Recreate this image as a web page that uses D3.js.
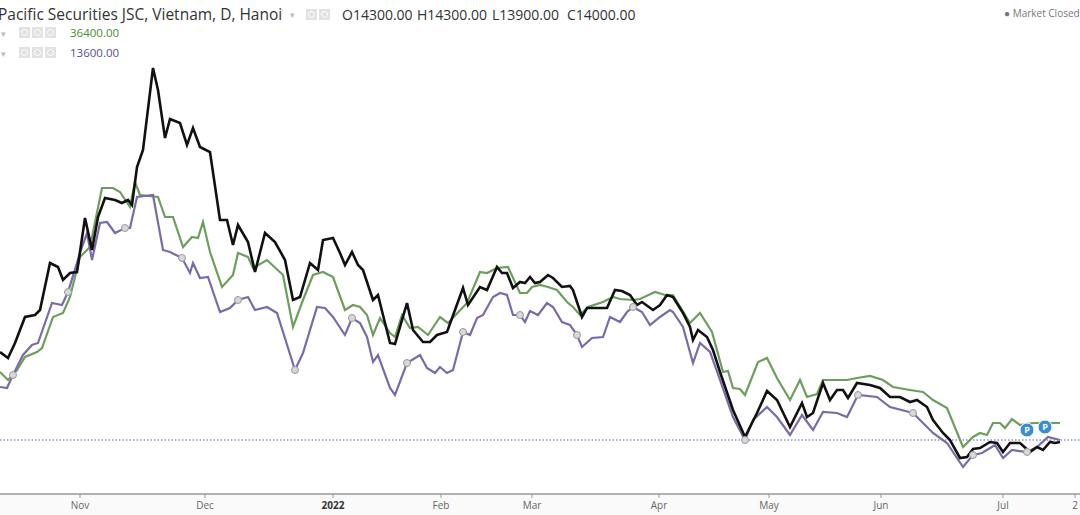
<!DOCTYPE html>
<html>
<head>
<meta charset="utf-8">
<script src="https://cdn.jsdelivr.net/npm/d3@7"></script>
<style>
  body { margin: 0; background: #fff; font-family: "Open Sans", Arial, sans-serif; }
</style>
</head>
<body>
<div id="chart"></div>
<script>
// [session, price in thousand VND]
const price = [[0,22.8],[1.6,22.2],[3,23.7],[5,26.3],[7,26.5],[8,27],[10,31.7],[11.6,31.3],[12.6,30],[14,30.7],[15.4,30.8],[17,36.2],[18.4,33],[19.6,36.3],[21,38.2],[23,38],[24.4,37.7],[25.6,38],[26.4,37.5],[27.4,41.3],[28.6,43],[30.6,51.2],[31.6,49],[33,44.2],[34,46.1],[36,45.7],[37.4,43.5],[38.6,45.2],[40,43.3],[42,42.8],[44,36],[45.4,36],[46.6,33.5],[47.6,35.5],[49.6,33.8],[51,30.8],[53,34.7],[55,33.8],[57,32],[58.6,28],[60,28.3],[62,31.7],[63.6,31],[64.6,34],[66.6,34.2],[68,32.7],[69,31.5],[70.4,32.8],[71.6,31.5],[72.6,31],[74.6,28],[75.6,28.5],[78,23.7],[79,23.6],[81.4,27.7],[82.6,25],[84.6,23.8],[86,23.8],[87.4,24.5],[89.4,24.8],[92.6,29.2],[93.6,27.5],[96,29.3],[97.4,29],[99.4,31.3],[100.4,30.7],[101.4,30.7],[102.6,29.2],[104,29.8],[105,29.7],[106,30.3],[107,29.7],[108,29.8],[109.6,30.5],[110.6,30.2],[112.4,29.3],[114,29.4],[114.6,29],[116.4,26.3],[117.4,27.2],[121.4,27.2],[123,29],[124.4,28.9],[126,28.5],[127.4,27.5],[128.4,27.8],[130.6,27],[132,27.5],[133.4,28.5],[134.6,28.3],[136.6,26.7],[138,25.3],[138.6,24],[139.6,25],[141.4,24.3],[142.6,23],[144,20.8],[146.6,17],[149,14.3],[151.4,16.7],[153.4,18.9],[155.4,18],[158,15.3],[160.4,17.7],[161.4,16.3],[162.6,16.7],[164.6,19.7],[166,18],[167.4,19],[168.6,19],[169.6,18.2],[171.4,19.7],[174,19.5],[176,19.2],[178,18.3],[180,18.3],[182,17.8],[183.4,18],[185.4,17.3],[186.6,16],[188.6,14.7],[190,14],[192,12.2],[193.4,12.3],[194.6,13.1],[196,13.2],[198,13.8],[199.4,13.7],[200.6,12.8],[202,13.7],[204,13.7],[206,12.8],[207.4,13.3],[208.6,13],[210,13.8],[211,13.7],[212,13.8]];

const green = [[0,20.8],[1.6,20],[3.4,21],[5,22.3],[7.4,22.8],[8.4,23.2],[10.6,26.3],[12.6,26.7],[14,28.3],[16,32.3],[18,33.3],[20.4,39.2],[22.6,39.2],[24,38.8],[26,37.3],[27,39.8],[28,38.5],[31.6,38.3],[33,36.3],[34.6,36.3],[36.6,33.3],[38.4,34.3],[39.6,34.2],[40.6,35.8],[42,32.8],[44.4,29.3],[46.6,30.5],[47.6,32.7],[49.6,32.3],[50.6,31.2],[53.4,32],[56.6,30.5],[58.6,25.3],[60.6,28],[62.6,30.5],[64.6,30.8],[66.6,30.3],[69,27],[70.6,27.5],[72,27.3],[73.4,26.5],[74.6,24.5],[76,26.2],[78,24.7],[79,24.3],[80.4,26.5],[82,25.2],[83.6,25.3],[85.6,24.5],[88,26.3],[89.6,25.7],[93.4,27.7],[96,30.8],[97.4,30.7],[99.4,31.2],[101.6,31.3],[104,28.7],[105.4,28.7],[106.4,29.3],[108,29.5],[109.6,29.3],[111.4,29],[113.4,27.8],[114.6,27.3],[116,26.5],[117.6,27.3],[120.6,27.8],[122.6,28.3],[124,28.1],[126.6,28],[128,28.1],[131,28.8],[133,28.5],[134.6,28.5],[138,25.7],[140,26.7],[142.4,24.8],[144.6,20.8],[145.6,20.9],[146.6,19.2],[148,19.1],[149,18.5],[151.6,21.8],[153.4,22.2],[155.4,20.2],[158,18],[160,20],[161.4,18.3],[163.4,18.6],[164.6,20],[169.4,20],[171.4,20.2],[174,20.4],[176.6,20],[178.6,19.3],[182,19],[184.6,18.8],[186.6,18],[189.4,17.2],[192.6,13.3],[194.6,14.3],[196,14.7],[197.4,14.5],[198.6,15.7],[200,15.7],[201,15.2],[202.4,16.1],[204,15.5],[206.6,15.7],[212,15.7]];

const purple = [[0,19.3],[1.4,19.2],[2.6,20.5],[4.6,22.5],[6.4,23.5],[7.6,23.7],[10.4,27.7],[12.4,27.5],[13.6,28.8],[16,32.7],[17.4,34.7],[18.4,32],[20,35.7],[21.4,35.8],[23,34.7],[25,35.2],[26,35.2],[27.4,38.3],[30.6,38.5],[32.6,33],[34,32.8],[36.4,32.2],[38,30.7],[38.6,31.7],[40,30.2],[41.6,30.3],[44,26.8],[46,27.2],[47.6,28],[49.6,28.3],[51,27],[53.4,27.3],[55.4,26.7],[59,21],[60.6,22.7],[63.4,27.3],[65,27.2],[66.6,26.3],[69,24.5],[70.4,26.2],[72,25.7],[73.4,24.3],[74.6,21.8],[75.6,22.5],[78,19.2],[79,18.5],[81.4,21.7],[84,22.5],[85.4,21.2],[87,20.7],[88,21.3],[89.4,20.7],[90.6,21],[92.6,24.8],[94,24.5],[95.4,26.2],[96.6,26.5],[98.6,28.3],[100,28.7],[101.4,28.5],[102.6,26.5],[104,26.5],[105,25.8],[106,26.9],[107.6,26.5],[109.4,27.7],[110.6,27.3],[112.4,25.8],[114,25.5],[115.4,24.5],[116.4,23.3],[118.4,24.2],[120.6,24.3],[122,26.3],[124,25.8],[125.4,26.8],[126.6,27.3],[128.4,26.8],[130,25.5],[132,26.3],[134,27],[134.6,26.8],[136.6,25.3],[138.6,21.7],[140,23.7],[142,22.8],[144,20],[146.6,16.3],[149,14],[150.6,16],[153.4,17.3],[155.4,16.3],[158,14.5],[160.4,16.5],[162.6,15],[164.6,16.8],[167.4,16.7],[169.4,16.3],[171.6,18.5],[175.4,18.3],[178,17.3],[182.6,16.7],[186.6,14.7],[189.4,13.7],[192.6,11.3],[194.6,12.5],[196.4,12.7],[199,13.5],[200.6,12.2],[202.4,13],[205.4,12.8],[207.4,13.3],[209.6,14.3],[212,14]];

const markerSessions = [2.6, 13.6, 25, 36.4, 47.6, 59, 70.4, 81.4, 92.6, 104, 115.4, 126.6, 138, 149, 171.6, 182.6, 194.6, 205.4];
const pMarkers = [[205.4, 15.0], [209, 15.3]];
const lastClose = 14.0;

const tickSessions = [16, 41, 66.6, 88.2, 106.4, 131.8, 153.8, 176.2, 200.6, 215];
const tickLabels = ["Nov", "Dec", "2022", "Feb", "Mar", "Apr", "May", "Jun", "Jul", "2"];

const W = 1080, H = 515, axisY = 494;
const svg = d3.select("#chart").append("svg").attr("width", W).attr("height", H);

const x = d3.scaleLinear().domain([0, 216]).range([0, W]);
const y = d3.scaleLinear().domain([5.4, 58]).range([526, 0]);

// bottom strip + axis
svg.append("rect").attr("x", 0).attr("y", axisY).attr("width", W).attr("height", H - axisY).attr("fill", "#fafafa");
svg.append("line").attr("x1", 0).attr("x2", W).attr("y1", axisY).attr("y2", axisY)
  .attr("stroke", "#999").attr("stroke-width", 1.5);
const ticks = svg.append("g");
tickSessions.forEach((s, i) => {
  ticks.append("line").attr("x1", x(s)).attr("x2", x(s)).attr("y1", axisY).attr("y2", axisY + 4).attr("stroke", "#999");
  ticks.append("text").attr("x", x(s)).attr("y", axisY + 15).attr("text-anchor", "middle")
    .style("font-size", "10px").style("fill", tickLabels[i] === "2022" ? "#333" : "#666")
    .style("font-weight", tickLabels[i] === "2022" ? "bold" : "normal")
    .text(tickLabels[i]);
});

// last price dotted line
svg.append("line").attr("x1", 0).attr("x2", W).attr("y1", y(lastClose)).attr("y2", y(lastClose))
  .attr("stroke", "#4a5fb8").attr("stroke-width", 1).attr("stroke-dasharray", "1.5,2");

const line = d3.line().x(d => x(d[0])).y(d => y(d[1]));
svg.append("path").datum(green).attr("d", line).attr("fill", "none").attr("stroke", "#6c9f5c").attr("stroke-width", 2.2);
svg.append("path").datum(purple).attr("d", line).attr("fill", "none").attr("stroke", "#7b6aa9").attr("stroke-width", 2.2);
svg.append("path").datum(price).attr("d", line).attr("fill", "none").attr("stroke", "#111").attr("stroke-width", 2.6);

svg.selectAll(".mk").data(markerSessions.map(s => purple.find(p => p[0] === s)).filter(Boolean))
  .join("circle").attr("cx", d => x(d[0])).attr("cy", d => y(d[1])).attr("r", 3.5)
  .attr("fill", "#d8d8d8").attr("stroke", "#999").attr("stroke-width", 1);

const pg = svg.selectAll(".pm").data(pMarkers).join("g")
  .attr("transform", d => `translate(${x(d[0])},${y(d[1])})`);
pg.append("circle").attr("r", 7).attr("fill", "#3a8fd0").attr("stroke", "#fff").attr("stroke-width", 1);
pg.append("text").attr("text-anchor", "middle").attr("dy", "0.35em").style("font-size", "9px")
  .style("font-weight", "bold").style("fill", "#fff").text("P");

// header
const hdr = svg.append("g").style("fill", "#333");
hdr.append("text").attr("x", -2).attr("y", 20).style("font-size", "15.5px").text("Pacific Securities JSC, Vietnam, D, Hanoi");
hdr.append("text").attr("x", 290).attr("y", 18).style("font-size", "9px").style("fill", "#bbb").text("▾");
function icons(x0, yy, n) {
  for (let i = 0; i < n; i++) {
    svg.append("rect").attr("x", x0 + i * 13).attr("y", yy).attr("width", 11).attr("height", 11).attr("fill", "#e2e2e2");
    svg.append("circle").attr("cx", x0 + i * 13 + 5.5).attr("cy", yy + 5.5).attr("r", 3).attr("fill", "none").attr("stroke", "#fff");
  }
}
icons(306, 9, 2);
["O14300.00", "H14300.00", "L13900.00", "C14000.00"].forEach((t, i) => {
  hdr.append("text").attr("x", 342 + i * 75).attr("y", 20).style("font-size", "14px").text(t);
});
svg.append("text").attr("x", 1004).attr("y", 17).style("font-size", "10px").style("fill", "#777").text("● Market Closed");

[["36400.00", "#3f8f2a", 37], ["13600.00", "#5b4a99", 57]].forEach(([t, c, yy]) => {
  svg.append("text").attr("x", 1).attr("y", yy).style("font-size", "9px").style("fill", "#bbb").text("▾");
  icons(19, yy - 10, 3);
  svg.append("text").attr("x", 70).attr("y", yy).style("font-size", "11.5px").style("fill", c).text(t);
});
</script>
</body>
</html>
